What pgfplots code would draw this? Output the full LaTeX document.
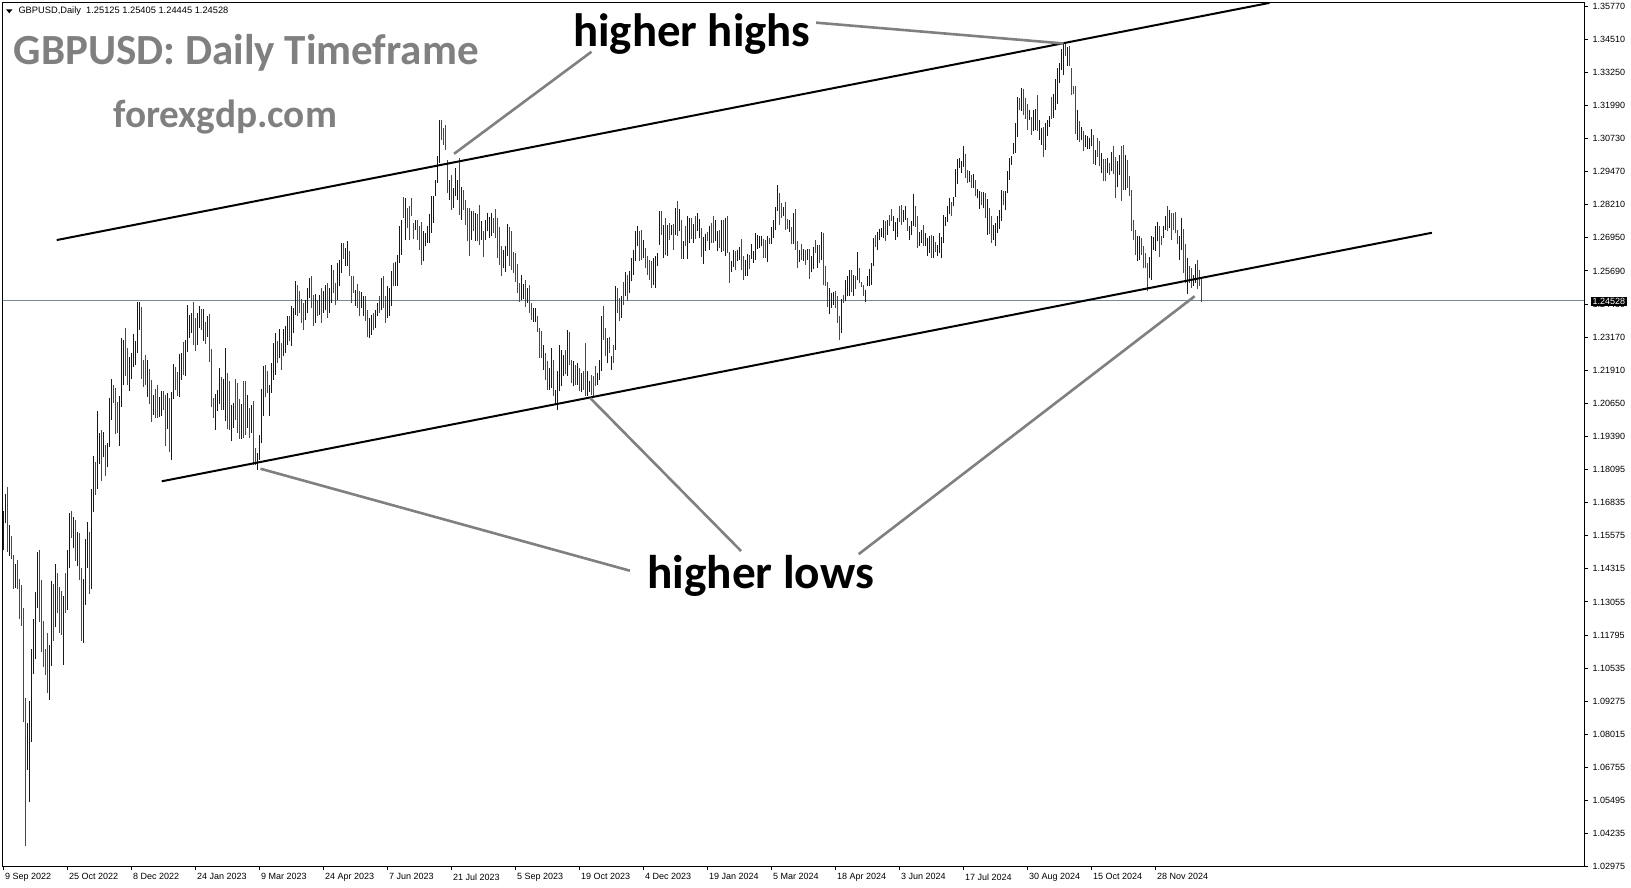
\documentclass[border=0pt]{standalone}
\usepackage{fontspec}
\setmainfont{Liberation Sans}
\newfontfamily\carlito{Carlito}
\usepackage{pgfplots}
\usepackage{pgfplotstable}
\pgfplotsset{compat=1.18}
\definecolor{barblue}{RGB}{0,0,215}
\definecolor{barred}{RGB}{240,0,0}
\definecolor{annot}{RGB}{128,128,128}
\definecolor{pline}{RGB}{119,136,153}

\pgfplotstableread{
i hi lo
0 1.16559 1.15068
1 1.17210 1.16081
3 1.16009 1.14866
6 1.14562 1.13650
12 1.08528 1.06748
13 1.09353 1.05562
14 1.11350 1.07805
15 1.12478 1.10380
16 1.13477 1.10959
17 1.15011 1.12898
23 1.11494 1.09396
24 1.13911 1.10699
26 1.14533 1.12174
30 1.13332 1.10742
32 1.15083 1.12826
33 1.16487 1.14388
35 1.16342 1.15141
37 1.15763 1.14461
40 1.13983 1.11567
41 1.15503 1.13014
42 1.16125 1.14388
44 1.17398 1.13593
45 1.18614 1.16530
47 1.20350 1.17384
48 1.19482 1.18339
50 1.19554 1.18585
52 1.19120 1.18223
53 1.20828 1.18990
54 1.21551 1.19988
58 1.20900 1.19019
59 1.23099 1.20466
60 1.23027 1.21334
63 1.22376 1.21074
64 1.22521 1.21551
65 1.23259 1.22014
66 1.22969 1.22057
67 1.24445 1.22521
68 1.24445 1.23389
72 1.22275 1.20871
75 1.20943 1.20176
78 1.20856 1.20104
79 1.21102 1.20133
82 1.21001 1.19670
84 1.21045 1.18469
85 1.22115 1.20799
88 1.22492 1.20871
89 1.22521 1.21522
91 1.23027 1.21667
92 1.24344 1.22564
93 1.23968 1.23099
94 1.24054 1.23287
97 1.24054 1.22824
98 1.24300 1.23461
100 1.24185 1.22969
102 1.23939 1.23143
106 1.20972 1.19627
107 1.21131 1.20350
108 1.21956 1.20582
110 1.21555 1.20383
111 1.22714 1.19942
114 1.20572 1.19186
115 1.20635 1.19690
119 1.20597 1.19287
122 1.20950 1.19690
124 1.20572 1.19501
127 1.18745 1.18115
128 1.19438 1.18493
129 1.21177 1.19123
130 1.22046 1.20156
133 1.21328 1.20156
134 1.22147 1.21013
135 1.22903 1.21517
136 1.23281 1.21706
138 1.23432 1.22336
140 1.23432 1.22399
141 1.23533 1.22525
142 1.23911 1.22840
144 1.24289 1.22777
145 1.24226 1.23281
146 1.25234 1.23974
151 1.24541 1.23785
152 1.24982 1.24037
153 1.25360 1.24604
156 1.24755 1.23659
158 1.24730 1.23974
160 1.24856 1.24037
161 1.25108 1.24163
163 1.24982 1.24037
164 1.25864 1.24415
167 1.25927 1.24541
168 1.26053 1.25045
169 1.26683 1.25549
171 1.26494 1.25801
172 1.26771 1.25801
176 1.24919 1.24289
179 1.24818 1.24226
180 1.24667 1.23911
183 1.23848 1.23092
184 1.23974 1.23218
186 1.24163 1.23470
187 1.24415 1.23911
189 1.25360 1.24163
192 1.25045 1.23848
193 1.24982 1.23936
194 1.25612 1.24289
196 1.25952 1.25045
197 1.26242 1.25045
198 1.27313 1.25927
199 1.27565 1.26242
201 1.28384 1.26809
206 1.27565 1.27187
210 1.27124 1.25990
211 1.27061 1.26557
212 1.27313 1.26683
213 1.27779 1.26683
214 1.28447 1.27061
215 1.28447 1.27439
216 1.29077 1.28447
217 1.29959 1.28951
218 1.31345 1.29707
223 1.29077 1.28321
225 1.28762 1.28006
226 1.29518 1.28447
227 1.29077 1.28321
229 1.28800 1.27565
234 1.27880 1.26809
236 1.27817 1.26746
239 1.27502 1.26809
241 1.27565 1.26809
242 1.27817 1.27124
243 1.27666 1.26872
244 1.27817 1.26935
250 1.26406 1.25738
251 1.26557 1.25574
252 1.27414 1.26179
259 1.25486 1.24541
260 1.25133 1.24566
262 1.24982 1.24415
265 1.24226 1.23684
266 1.24226 1.23684
270 1.22840 1.21895
273 1.21958 1.21139
274 1.22714 1.21202
276 1.21139 1.20572
277 1.21832 1.20383
278 1.22840 1.21076
279 1.22651 1.21265
280 1.22462 1.21643
282 1.23407 1.21643
285 1.22210 1.21265
287 1.22147 1.21328
289 1.21769 1.21038
292 1.21832 1.20887
293 1.21454 1.21038
297 1.21769 1.21328
298 1.22273 1.21517
299 1.23911 1.21832
302 1.23092 1.22147
304 1.22424 1.21895
306 1.25070 1.22651
309 1.24667 1.23848
311 1.25587 1.24692
313 1.25637 1.24793
314 1.26116 1.25234
315 1.26431 1.25486
316 1.27124 1.25990
317 1.27313 1.26557
320 1.26809 1.26116
325 1.26116 1.25108
326 1.26179 1.24982
327 1.26305 1.25801
328 1.27905 1.26620
330 1.27376 1.26116
332 1.27376 1.26179
334 1.27376 1.26998
336 1.28006 1.26998
338 1.27968 1.27124
340 1.26746 1.26078
342 1.27691 1.26078
343 1.27628 1.26683
345 1.27414 1.26683
347 1.27817 1.27124
348 1.27590 1.26872
350 1.26910 1.25902
351 1.27036 1.26368
353 1.27313 1.26431
356 1.27540 1.26746
357 1.27149 1.26368
359 1.27565 1.26330
361 1.27628 1.26204
364 1.26015 1.25574
365 1.26406 1.25776
367 1.26431 1.25990
368 1.26532 1.26028
371 1.26053 1.25423
372 1.26267 1.25448
374 1.26658 1.26078
375 1.26393 1.25927
376 1.27061 1.26053
377 1.26998 1.26456
378 1.26960 1.26494
379 1.26935 1.26557
382 1.26960 1.25952
384 1.27288 1.26658
385 1.27565 1.26872
386 1.28044 1.27162
387 1.28888 1.27880
390 1.28044 1.27691
393 1.27565 1.27086
395 1.27817 1.26658
398 1.26431 1.25952
400 1.26456 1.26015
402 1.26456 1.26053
404 1.26204 1.25574
405 1.26532 1.25700
407 1.26620 1.25738
409 1.27086 1.26053
413 1.24982 1.24012
414 1.24793 1.24226
415 1.24818 1.24352
419 1.24566 1.23281
421 1.25272 1.24478
422 1.25423 1.24667
423 1.25675 1.24667
425 1.25486 1.24667
427 1.26330 1.25272
431 1.24919 1.24440
432 1.25423 1.25045
433 1.25700 1.25045
434 1.25927 1.25108
435 1.26872 1.25801
437 1.27086 1.26406
438 1.27212 1.26784
439 1.27250 1.26910
440 1.27540 1.26872
442 1.27540 1.26998
445 1.27691 1.27124
446 1.27464 1.26784
447 1.27628 1.26910
450 1.27918 1.27464
451 1.28069 1.27565
453 1.27338 1.26809
454 1.27502 1.26998
455 1.28548 1.27313
458 1.27086 1.26582
459 1.27187 1.26683
461 1.27061 1.26557
462 1.26872 1.26204
463 1.26960 1.26305
465 1.26935 1.26116
467 1.26620 1.26179
468 1.27061 1.26305
469 1.26910 1.26103
470 1.27754 1.26683
471 1.27666 1.27313
472 1.28069 1.27464
473 1.28384 1.27779
475 1.28422 1.28069
476 1.29480 1.28422
477 1.29858 1.28926
478 1.29896 1.29518
479 1.29770 1.29329
480 1.30362 1.29556
483 1.29392 1.28976
485 1.29304 1.28762
487 1.28724 1.28384
488 1.28636 1.27981
490 1.28598 1.28006
492 1.28346 1.26998
495 1.27351 1.26809
496 1.27439 1.26582
497 1.27716 1.27061
498 1.27918 1.27212
499 1.28699 1.27527
501 1.28661 1.27918
502 1.29392 1.28573
503 1.29896 1.29077
504 1.29984 1.29644
505 1.30463 1.30060
506 1.31219 1.30085
507 1.32202 1.30690
509 1.32542 1.31660
513 1.31723 1.31345
515 1.31698 1.30904
516 1.31748 1.30967
518 1.31345 1.30589
519 1.31030 1.30400
521 1.31219 1.30211
522 1.31345 1.30715
523 1.31496 1.31068
525 1.32328 1.31408
526 1.32882 1.31723
527 1.33298 1.31950
528 1.33487 1.32731
529 1.34016 1.33210
530 1.34193 1.33046
532 1.34092 1.33386
537 1.31698 1.30589
539 1.31055 1.30564
541 1.30778 1.30312
542 1.30715 1.30236
543 1.30652 1.30236
544 1.30992 1.30337
546 1.30186 1.29644
549 1.30085 1.29329
552 1.29896 1.29329
554 1.30110 1.29392
557 1.29770 1.28800
558 1.30022 1.29266
561 1.30022 1.28699
567 1.26960 1.25990
568 1.26935 1.26053
573 1.26154 1.25360
574 1.26935 1.25297
575 1.26897 1.26431
576 1.27313 1.26368
577 1.27477 1.26746
580 1.27313 1.26872
581 1.27691 1.27162
583 1.27943 1.27250
588 1.26935 1.26028
589 1.27628 1.26431
592 1.26116 1.24768
595 1.25486 1.25045
596 1.25902 1.25171
}\upbars

\pgfplotstableread{
i hi lo
2 1.17471 1.15011
4 1.15618 1.14721
5 1.14895 1.13621
7 1.14707 1.13621
8 1.13983 1.12478
9 1.13766 1.12218
10 1.12898 1.08557
11 1.09498 1.03869
18 1.15068 1.12363
19 1.13954 1.11234
20 1.12406 1.10670
21 1.11350 1.10337
22 1.11957 1.09657
25 1.13810 1.11639
27 1.14215 1.12681
28 1.13694 1.11957
29 1.13520 1.11856
31 1.14215 1.12681
34 1.16559 1.15546
36 1.16226 1.14678
38 1.15734 1.13954
39 1.14388 1.11639
43 1.15763 1.13419
46 1.18397 1.17167
49 1.19627 1.17673
51 1.19048 1.17861
55 1.21334 1.20639
56 1.21218 1.19453
57 1.20683 1.19496
61 1.23461 1.21652
62 1.22709 1.21305
69 1.24271 1.21551
70 1.22275 1.21233
71 1.22463 1.21334
73 1.21913 1.20610
74 1.21508 1.19930
76 1.21160 1.20061
77 1.21305 1.20061
80 1.21074 1.20365
81 1.20929 1.19019
83 1.20828 1.18773
86 1.22014 1.21117
87 1.21812 1.20900
90 1.22926 1.21696
95 1.24445 1.22810
96 1.23866 1.22607
99 1.24199 1.23403
101 1.23693 1.22853
103 1.23982 1.22202
104 1.22680 1.20495
105 1.20828 1.20075
109 1.21605 1.20358
112 1.21769 1.19652
113 1.21454 1.19627
116 1.21542 1.20005
117 1.21391 1.19501
118 1.20786 1.19274
120 1.21479 1.19312
121 1.21479 1.19438
123 1.20446 1.19312
125 1.20698 1.18304
126 1.18934 1.18279
131 1.22084 1.20849
132 1.21832 1.21013
137 1.22966 1.22147
139 1.22903 1.21895
143 1.23911 1.22966
147 1.25108 1.23936
148 1.24856 1.24037
149 1.24579 1.23659
150 1.24415 1.23407
154 1.25448 1.24226
155 1.24730 1.23533
157 1.24541 1.23911
159 1.24982 1.23659
162 1.25171 1.23848
165 1.25675 1.24793
166 1.25171 1.24352
170 1.26683 1.26078
173 1.26368 1.25423
174 1.25448 1.24415
175 1.25448 1.24793
177 1.25146 1.24226
178 1.24881 1.23911
181 1.24667 1.23722
182 1.24163 1.23130
185 1.24037 1.23407
188 1.24667 1.24037
190 1.25448 1.24226
191 1.24667 1.23659
195 1.25927 1.25045
200 1.28422 1.27628
202 1.28006 1.27250
203 1.28069 1.26809
204 1.28371 1.27691
205 1.27439 1.26834
207 1.27565 1.26809
208 1.27313 1.26431
209 1.27477 1.25864
219 1.31320 1.30589
220 1.31030 1.30400
221 1.31156 1.30211
222 1.29833 1.28573
224 1.29266 1.27943
228 1.29896 1.27754
230 1.28699 1.27943
231 1.28321 1.27376
232 1.28006 1.26746
233 1.28006 1.26179
235 1.27880 1.27124
237 1.27779 1.26746
238 1.28132 1.26620
240 1.27124 1.26141
245 1.27628 1.27061
246 1.27981 1.26872
247 1.27628 1.26116
248 1.27275 1.25864
249 1.26557 1.25448
253 1.27275 1.25801
254 1.27124 1.25675
255 1.26330 1.25549
256 1.26305 1.25196
257 1.25902 1.24793
258 1.25171 1.24440
261 1.25297 1.24264
263 1.25108 1.24037
264 1.24415 1.23760
267 1.23911 1.23306
268 1.23470 1.22336
269 1.23344 1.22336
271 1.22525 1.21517
272 1.22210 1.21139
275 1.22273 1.20887
281 1.22651 1.21731
283 1.23319 1.22084
284 1.22273 1.21391
286 1.22084 1.21328
288 1.21958 1.21076
290 1.21832 1.21139
291 1.22903 1.20887
294 1.21681 1.20950
295 1.21643 1.20887
296 1.22021 1.21265
300 1.24289 1.23029
301 1.23470 1.22399
303 1.23117 1.22525
305 1.22840 1.22147
307 1.24982 1.24037
308 1.24604 1.23722
310 1.25196 1.24352
312 1.25486 1.24478
318 1.27124 1.25990
319 1.27187 1.26053
321 1.26494 1.25738
322 1.26179 1.25486
323 1.26053 1.25297
324 1.25990 1.24982
329 1.27880 1.26998
331 1.27628 1.26242
333 1.27439 1.26809
335 1.27414 1.26431
337 1.28258 1.26935
339 1.27565 1.26078
341 1.27313 1.26557
344 1.27628 1.26834
346 1.27716 1.26834
349 1.27250 1.26154
352 1.27086 1.26746
354 1.27439 1.26683
355 1.27716 1.26683
358 1.27187 1.26494
360 1.27540 1.26368
362 1.27691 1.26305
363 1.26330 1.25171
366 1.26393 1.25675
369 1.26834 1.25675
370 1.26179 1.25297
373 1.26242 1.25700
380 1.26834 1.26116
381 1.26784 1.26116
383 1.26872 1.26658
388 1.28573 1.27376
389 1.28195 1.27628
391 1.28220 1.27187
392 1.27590 1.27212
394 1.27288 1.26658
396 1.27968 1.26431
397 1.26746 1.25738
399 1.26658 1.26053
401 1.26431 1.25864
403 1.26469 1.25322
406 1.26809 1.26305
408 1.26620 1.25927
410 1.27061 1.25108
411 1.25801 1.25045
412 1.25196 1.24264
416 1.24856 1.24226
417 1.24667 1.23659
418 1.23936 1.23004
420 1.24705 1.24415
424 1.25650 1.24818
426 1.25448 1.24944
428 1.25738 1.25171
429 1.25196 1.25020
430 1.25108 1.24667
436 1.26998 1.26532
441 1.27502 1.26746
443 1.27754 1.27338
444 1.27968 1.27502
448 1.28094 1.27464
449 1.28132 1.27376
452 1.27628 1.27124
456 1.28069 1.27288
457 1.27691 1.26494
460 1.27376 1.26557
464 1.26998 1.26116
466 1.26708 1.26330
474 1.28220 1.27716
481 1.30060 1.29140
482 1.29455 1.28951
484 1.29266 1.28762
486 1.29052 1.28447
489 1.28598 1.28132
491 1.28573 1.27628
493 1.28006 1.27023
494 1.27691 1.26683
500 1.28636 1.28107
508 1.32164 1.31698
510 1.32504 1.31534
511 1.32164 1.31370
512 1.31950 1.30967
514 1.31446 1.30778
517 1.32290 1.30929
520 1.31068 1.29934
524 1.32202 1.31370
531 1.34243 1.33739
533 1.34117 1.33361
534 1.33298 1.32290
535 1.32630 1.32328
536 1.32630 1.30816
538 1.31282 1.30488
540 1.30904 1.30148
545 1.30778 1.29682
547 1.30652 1.29934
548 1.30526 1.29581
550 1.29858 1.29014
551 1.29858 1.29014
553 1.29707 1.29266
555 1.30362 1.29304
556 1.29921 1.28384
559 1.30362 1.28258
560 1.30400 1.28674
562 1.29833 1.28762
563 1.29203 1.28472
564 1.28699 1.27124
565 1.27565 1.26809
566 1.27187 1.26242
569 1.26872 1.26242
570 1.26582 1.25738
571 1.26305 1.25738
572 1.25927 1.24856
578 1.27313 1.26154
579 1.26960 1.26620
582 1.28069 1.27124
584 1.27817 1.26809
585 1.27817 1.27162
586 1.27842 1.27061
587 1.27187 1.26658
590 1.27212 1.25549
591 1.26658 1.25171
593 1.25801 1.25171
594 1.25738 1.24982
597 1.26053 1.24944
598 1.25675 1.25045
599 1.25405 1.24445
}\downbars

\begin{document}
\begin{tikzpicture}
\useasboundingbox (0,0) rectangle (1631pt,888pt);
\begin{axis}[
  at={(2.5pt,21.5pt)}, anchor=south west,
  scale only axis, width=1582pt, height=864pt,
  xmin=-0.5, xmax=790.5, ymin=1.0311, ymax=1.35779,
  axis line style={black, line width=1pt},
  tick style={black, line width=1pt},
  tick align=outside, major tick length=4pt,
  xtick pos=left, ytick pos=right, yticklabel pos=right,
  xtick={0,32,64,96,128,160,192,224,256,288,320,352,384,416,448,480,512,544,576},
  xticklabels={9 Sep 2022,25 Oct 2022,8 Dec 2022,24 Jan 2023,9 Mar 2023,24 Apr 2023,7 Jun 2023,21 Jul 2023,5 Sep 2023,19 Oct 2023,4 Dec 2023,19 Jan 2024,5 Mar 2024,18 Apr 2024,3 Jun 2024,17 Jul 2024,30 Aug 2024,15 Oct 2024,28 Nov 2024},
  ytick={1.35639,1.34388,1.33136,1.31885,1.30633,1.29382,1.28131,1.26879,1.25628,1.24376,1.23125,1.21874,1.20622,1.19371,1.18119,1.16868,1.15617,1.14365,1.13114,1.11862,1.10611,1.09360,1.08108,1.06857,1.05605,1.04354,1.03112},
  yticklabels={1.35770,1.34510,1.33250,1.31990,1.30730,1.29470,1.28210,1.26950,1.25690,1.24430,1.23170,1.21910,1.20650,1.19390,1.18095,1.16835,1.15575,1.14315,1.13055,1.11795,1.10535,1.09275,1.08015,1.06755,1.05495,1.04235,1.02975},
  ticklabel style={font=\fontsize{9}{10}\selectfont, inner sep=0pt},
  xticklabel style={anchor=north west, xshift=1.5pt, yshift=-3pt},
  yticklabel style={anchor=west, xshift=4pt},
  clip=true,
]
% current price line
\addplot[pline, line width=1pt] coordinates {(-0.5,1.24521) (790.5,1.24521)};
% up bars
\addplot[draw=none, forget plot, error bars/.cd, y dir=plus, y explicit, error mark=none,
  error bar style={draw=barblue, line width=1.3pt}]
  table[x=i, y=lo, y error expr=\thisrow{hi}-\thisrow{lo}] {\upbars};
% down bars
\addplot[draw=none, forget plot, error bars/.cd, y dir=plus, y explicit, error mark=none,
  error bar style={draw=barred, line width=1.3pt}]
  table[x=i, y=lo, y error expr=\thisrow{hi}-\thisrow{lo}] {\downbars};
% channel lines
\addplot[black, line width=2pt] coordinates {(26.6,1.26796) (633,1.35764)};
\addplot[black, line width=2pt] coordinates {(79.1,1.17674) (714.2,1.27072)};
% annotation lines
\addplot[annot, line width=2.6pt] coordinates {(294,1.33916) (225.3,1.30059)};
\addplot[annot, line width=2.6pt] coordinates {(406.3,1.35016) (530,1.34229)};
\addplot[annot, line width=2.6pt] coordinates {(313.2,1.14294) (128.5,1.18150)};
\addplot[annot, line width=2.6pt] coordinates {(368.8,1.15038) (293.4,1.20819)};
\addplot[annot, line width=2.6pt] coordinates {(427.6,1.14921) (595.6,1.24672)};
\end{axis}
% current price box
\node[fill=black, text=white, inner xsep=1.5pt, inner ysep=1.2pt, anchor=west,
  font=\fontsize{9}{10}\selectfont] at (1591pt,586.5pt) {1.24528};
% header
\fill (6pt,878.7pt) -- (12.5pt,878.7pt) -- (9.25pt,874.7pt) -- cycle;
\node[anchor=base west, inner sep=0pt, font=\fontsize{9.3}{10}\selectfont] at (18.3pt,874pt)
  {GBPUSD,Daily\ \ 1.25125 1.25405 1.24445 1.24528};
% titles
\node[anchor=base west, inner sep=0pt, text=annot, font=\carlito\bfseries\fontsize{43}{50}\selectfont]
  at (13.5pt,823pt) {GBPUSD: Daily Timeframe};
\node[anchor=base west, inner sep=0pt, text=annot, font=\carlito\bfseries\fontsize{39.3}{45}\selectfont]
  at (113pt,760.5pt) {forexgdp.com};
\node[anchor=base west, inner sep=0pt, font=\carlito\bfseries\fontsize{46.8}{52}\selectfont]
  at (573pt,841pt) {higher highs};
\node[anchor=base west, inner sep=0pt, font=\carlito\bfseries\fontsize{47.3}{52}\selectfont]
  at (647pt,299pt) {higher lows};
\end{tikzpicture}
\end{document}
